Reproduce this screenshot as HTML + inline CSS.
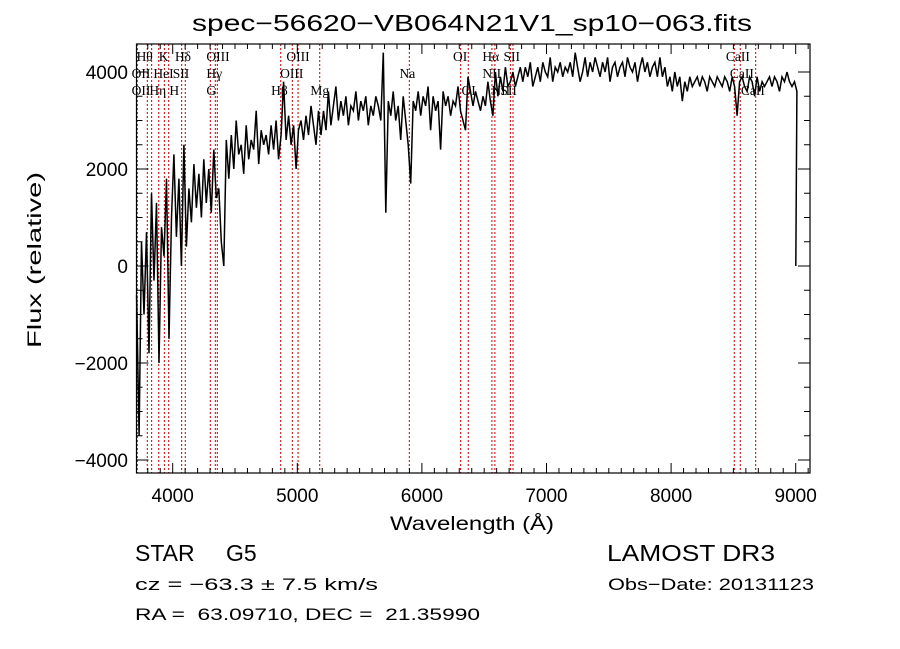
<!DOCTYPE html>
<html><head><meta charset="utf-8"><style>
html,body{margin:0;padding:0;background:#fff;}
svg{display:block;}
text{font-family:"Liberation Sans",sans-serif;fill:#000;white-space:pre;}
.lab{font-family:"Liberation Serif",serif;font-size:13.5px;}
</style></head><body>
<svg id="chart" width="900" height="649" viewBox="0 0 900 649" xmlns="http://www.w3.org/2000/svg" xml:space="preserve">
<rect width="900" height="649" fill="#fff"/>
<text x="472" y="31" text-anchor="middle" font-size="23" textLength="560" lengthAdjust="spacingAndGlyphs">spec−56620−VB064N21V1_sp10−063.fits</text>
<g id="lines"></g>
<g id="labels"></g>
<g id="series"></g>
<g id="axes"></g>
<text x="472" y="530" text-anchor="middle" font-size="19" textLength="164" lengthAdjust="spacingAndGlyphs">Wavelength (Å)</text>
<text transform="translate(41,260) rotate(-90)" text-anchor="middle" font-size="19" textLength="176" lengthAdjust="spacingAndGlyphs">Flux (relative)</text>
<text x="135" y="561" font-size="23">STAR</text>
<text x="226" y="561" font-size="23">G5</text>
<text x="607" y="561" font-size="23" textLength="168" lengthAdjust="spacingAndGlyphs">LAMOST DR3</text>
<text x="135" y="590" font-size="17" textLength="243" lengthAdjust="spacingAndGlyphs">cz = −63.3 ± 7.5 km/s</text>
<text x="608" y="590" font-size="17" textLength="206" lengthAdjust="spacingAndGlyphs">Obs−Date: 20131123</text>
<text x="135" y="620" font-size="17" textLength="345" lengthAdjust="spacingAndGlyphs">RA =  63.09710, DEC =  21.35990</text>
</svg>
<script>
const xTicks = [4000,5000,6000,7000,8000,9000];
const yTicks = [4000,2000,0,-2000,-4000];
const lineWaves = [3716,3796,3831,3888,3933,3968,4072,4101,4302,4342,4358,4867,4960,5006,5180,5899,6311,6372,6562,6586,6710,6731,8507,8555,8679];
const labelTexts = ["Hθ","K","Hδ","OIII","OIII","OII","HeI","SII","Hγ","OIII","OII","Hη","H","G","Hβ","Mg","Na","OI","Hα","SII","NII","OI","NII","SII","CaII","CaII","CaII"];
const labelWaves = [3710,3888,4018,4270,4912,3670,3845,4000,4270,4862,3670,3813,3973,4270,4790,5105,5820,6250,6485,6655,6485,6318,6558,6630,8440,8472,8560];
const labelRows = [1,1,1,1,1,2,2,2,2,2,3,3,3,3,3,3,2,1,1,1,2,3,3,3,1,2,3];
const waveStart = 3710, waveStep = 20;
const flux = [
-600,-3500,500,-1000,700,-1800,1500,-300,1300,-2000,800,200,1800,-1500,1000,
2300,600,1800,0,2500,400,1600,900,2100,1200,1900,1000,2200,1300,2000,1100,2400,1400,1600,500,
0,2600,1800,2700,2000,3000,2300,2500,1900,2900,2200,2600,2400,3200,2100,2800,2500,2700,2300,2900,
2400,3000,2200,2700,3800,2600,3100,2500,2900,2000,2800,3000,2600,3100,2700,3300,2900,2500,3200,2700,
3200,2800,3600,2900,3300,3700,3000,3400,3100,3500,2900,3300,3200,3600,3000,3400,3200,3500,2900,3300,
3100,3500,3300,3000,4400,1100,3400,3100,3600,3000,3300,2600,3500,3000,2500,1700,3400,3200,3600,3100,
3500,3300,3700,2800,3500,3200,3400,2400,3600,3300,3500,3100,3400,3300,3700,3200,3000,2800,3900,3600,
3300,3600,3400,3200,3500,3300,3800,3400,3100,4000,3500,3900,3600,4100,3700,3800,4000,3700,3900,4100,
3800,4100,3900,4200,3700,3900,4100,3800,4200,4000,3900,4300,3800,4100,4000,4200,3900,4100,4000,4200,
3900,4400,4100,3800,4000,4300,3900,4200,4000,4300,4100,3900,4200,4000,4300,3800,4100,4200,3900,4100,
4200,3900,4300,4100,4000,4200,3800,4100,4300,4000,4200,3900,4100,4200,3900,4300,3900,4100,3700,3900,
3600,4000,3700,3900,3400,3800,3600,3900,3700,3800,3900,3700,3900,3800,3600,3900,3800,3700,3900,3800,
3700,3900,3800,3600,3900,3700,3100,3800,3900,3700,3600,3900,3800,3500,3900,3600,3800,3700,3800,3900,
3700,3900,3800,3600,3900,3800,4000,3800,3700,3800,
3600];
const endWave = 9001, endFlux = 0;

const NS='http://www.w3.org/2000/svg';
const L=136.5,R=810,T=44,B=473;
const xs = w => 172.7 + (w-4000)*0.1246;
const ys = v => 266 - v*0.0485;
function mk(tag, attrs, parent){const e=document.createElementNS(NS,tag);for(const k in attrs)e.setAttribute(k,attrs[k]);parent.appendChild(e);return e;}
const gL=document.getElementById('lines'), gLab=document.getElementById('labels'), gS=document.getElementById('series'), gA=document.getElementById('axes');

lineWaves.forEach(w=>{
  const e=mk('line',{x1:xs(w),x2:xs(w),y1:T,y2:B,stroke:'#c00000','stroke-width':1,'stroke-dasharray':'2,2'},gL);
  
  
});
labelTexts.forEach((t,i)=>{
  const e=mk('text',{x:xs(labelWaves[i]),y:44+labelRows[i]*17,class:'lab'},gLab);
  e.textContent=t;
  
  
});

let pts=[];
flux.forEach((v,i)=>{pts.push(xs(waveStart+i*waveStep).toFixed(1)+','+ys(v).toFixed(1));});
pts.push(xs(endWave).toFixed(1)+','+ys(endFlux).toFixed(1));
const pl=mk('polyline',{points:pts.join(' '),fill:'none',stroke:'#000','stroke-width':1.5,'stroke-linejoin':'miter'},gS);



const fr=mk('rect',{x:L,y:T,width:R-L,height:B-T,fill:'none',stroke:'#000','stroke-width':1.2},gA);


for(let w=3800; w<=9100; w+=100){
  const major = w%1000===0; const len = major?10:5;
  mk('line',{x1:xs(w),x2:xs(w),y1:B,y2:B-len,stroke:'#000'},gA);
  mk('line',{x1:xs(w),x2:xs(w),y1:T,y2:T+len,stroke:'#000'},gA);
}
for(let v=-4000; v<=4000; v+=500){
  const major = v%2000===0; const len = major?12:6;
  mk('line',{x1:L,x2:L+len,y1:ys(v),y2:ys(v),stroke:'#000'},gA);
  mk('line',{x1:R,x2:R-len,y1:ys(v),y2:ys(v),stroke:'#000'},gA);
}
xTicks.forEach(w=>{
  const e=mk('text',{x:xs(w),y:502,'text-anchor':'middle','font-size':19},gA);
  e.textContent=w;
  
  
});
yTicks.forEach(v=>{
  const e=mk('text',{x:128,y:ys(v)+7,'text-anchor':'end','font-size':19},gA);
  e.textContent=(v<0?'−':'')+Math.abs(v);
  
  
});
</script>
</body></html>
